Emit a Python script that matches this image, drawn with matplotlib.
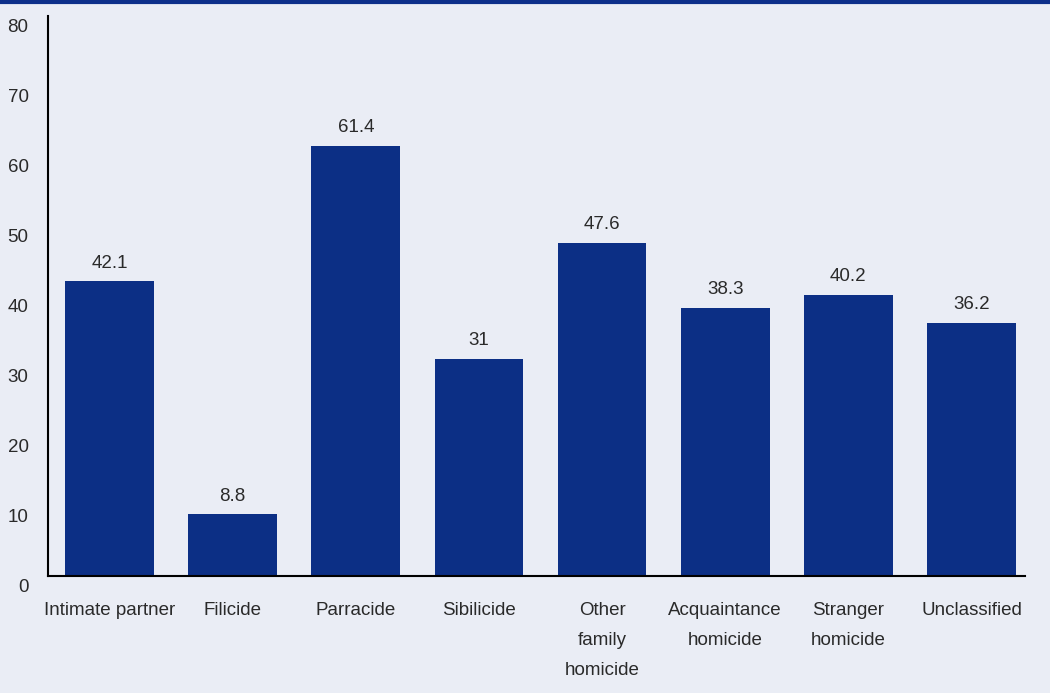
import matplotlib.pyplot as plt
import matplotlib.transforms as mtransforms
from matplotlib.lines import Line2D

# Data
categories = ["Intimate partner", "Filicide", "Parracide", "Sibilicide",
              "Other\nfamily\nhomicide", "Acquaintance\nhomicide",
              "Stranger\nhomicide", "Unclassified"]
values = [42.1, 8.8, 61.4, 31, 47.6, 38.3, 40.2, 36.2]
value_labels = ["42.1", "8.8", "61.4", "31", "47.6", "38.3", "40.2", "36.2"]
y_ticks = [0, 10, 20, 30, 40, 50, 60, 70, 80]

bg = "#eaedf5"
bar_color = "#0c2f85"
text_color = "#2a2a2a"

plt.rcParams['font.family'] = ['Liberation Sans Narrow', 'Liberation Sans', 'DejaVu Sans']

fig = plt.figure(figsize=(10.5, 6.93), dpi=100, facecolor=bg)
ax = fig.add_axes([48 / 1050, 1 - 576 / 693, 977 / 1050, 560 / 693])
ax.set_facecolor(bg)

# thin blue band across the top
fig.add_artist(Line2D([0, 1], [1 - 1.5 / 693, 1 - 1.5 / 693], transform=fig.transFigure,
                      color="#0d2f8a", linewidth=3))

x = list(range(len(categories)))
ax.bar(x, values, width=0.72, color=bar_color, zorder=2)

for xi, v, lab in zip(x, values, value_labels):
    ax.annotate(lab, (xi, v), xytext=(0, 7), textcoords="offset points",
                ha="center", va="bottom", fontsize=13.5, color=text_color)

ax.set_xlim(-0.5, 7.435)
ax.set_ylim(0, 80)
ax.set_yticks(y_ticks)
ax.set_yticklabels([str(t) for t in y_ticks], fontsize=13.5, color=text_color)
ax.set_xticks(x)
ax.set_xticklabels(categories, fontsize=13.5, color=text_color, linespacing=2.0)
ax.tick_params(axis="both", length=0)
ax.tick_params(axis="y", pad=14)
ax.tick_params(axis="x", pad=19)

# y tick labels sit a little below their values in the reference
offset = mtransforms.ScaledTranslation(0, -9 / 100, fig.dpi_scale_trans)
for lbl in ax.get_yticklabels():
    lbl.set_transform(lbl.get_transform() + offset)

for side in ["top", "right"]:
    ax.spines[side].set_visible(False)
for side in ["left", "bottom"]:
    ax.spines[side].set_color("black")
    ax.spines[side].set_linewidth(1.5)

fig.savefig("out.png", dpi=100, facecolor=bg)
